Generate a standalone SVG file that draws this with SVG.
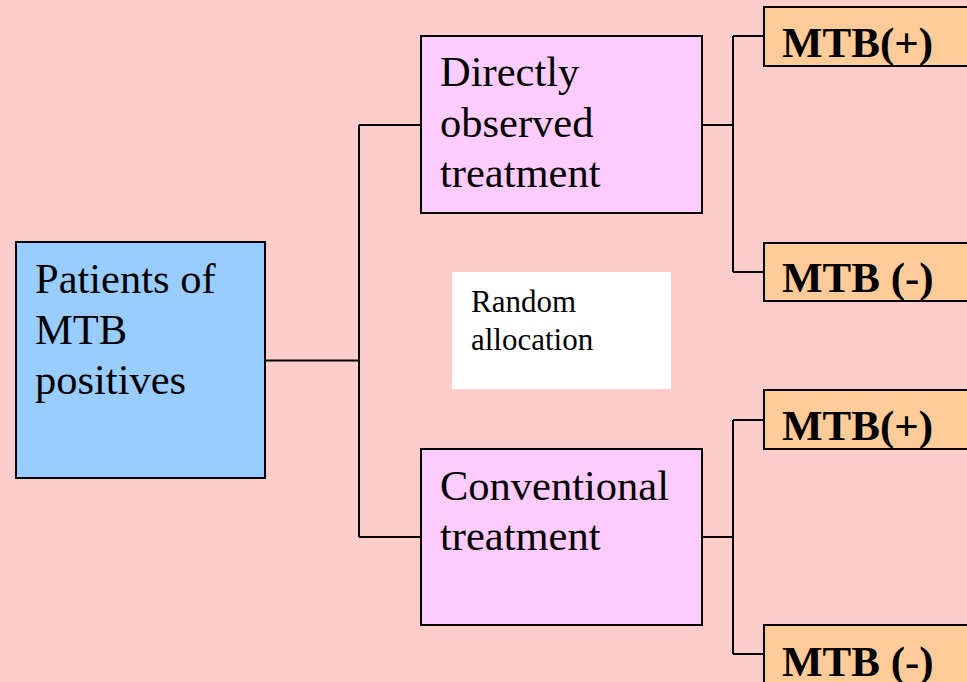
<svg xmlns="http://www.w3.org/2000/svg" width="967" height="682" viewBox="0 0 967 682">
<style>
.box{stroke:#000;stroke-width:2}
.t{font-family:"Liberation Serif","Times New Roman",serif;font-size:42.5px;fill:#000}
.b{font-family:"Liberation Serif","Times New Roman",serif;font-size:43px;font-weight:bold;fill:#000}
.s{font-family:"Liberation Serif","Times New Roman",serif;font-size:31px;fill:#000}
.c{fill:none;stroke:#000;stroke-width:2}
</style>
<rect x="0" y="0" width="967" height="682" fill="#FFCCCC"/>
<g id="connectors">
<path class="c" d="M266 360.5H359M359 125V537M359 125H421M359 537H421"/>
<path class="c" d="M702 125H733M733 36V272M733 36H764M733 272H764"/>
<path class="c" d="M702 537H733M733 420V654M733 420H764M733 654H764"/>
</g>
<g id="patients">
<rect class="box" x="16" y="242" width="249" height="236" fill="#99CCFF"/>
<text class="t" x="35" y="293">Patients of</text>
<text class="t" x="35" y="343.5">MTB</text>
<text class="t" x="35" y="394">positives</text>
</g>
<g id="dot">
<rect class="box" x="421" y="36" width="281" height="177" fill="#FFCCFF"/>
<text class="t" x="440" y="86">Directly</text>
<text class="t" x="440" y="137">observed</text>
<text class="t" x="440" y="187">treatment</text>
</g>
<g id="conventional">
<rect class="box" x="421" y="449" width="281" height="176" fill="#FFCCFF"/>
<text class="t" x="440" y="500">Conventional</text>
<text class="t" x="440" y="550">treatment</text>
</g>
<g id="random">
<rect x="452" y="272" width="219" height="117" fill="#FFFFFF"/>
<text class="s" x="471" y="312">Random</text>
<text class="s" x="471" y="350">allocation</text>
</g>
<g id="mtb1">
<rect class="box" x="764" y="7" width="220" height="59" fill="#FFCC99"/>
<text class="b" x="782" y="57">MTB(+)</text>
</g>
<g id="mtb2">
<rect class="box" x="764" y="243" width="220" height="58" fill="#FFCC99"/>
<text class="b" x="782" y="292">MTB (-)</text>
</g>
<g id="mtb3">
<rect class="box" x="764" y="390" width="220" height="59" fill="#FFCC99"/>
<text class="b" x="782" y="440">MTB(+)</text>
</g>
<g id="mtb4">
<rect class="box" x="764" y="625" width="220" height="80" fill="#FFCC99"/>
<text class="b" x="782" y="676">MTB (-)</text>
</g>
</svg>
